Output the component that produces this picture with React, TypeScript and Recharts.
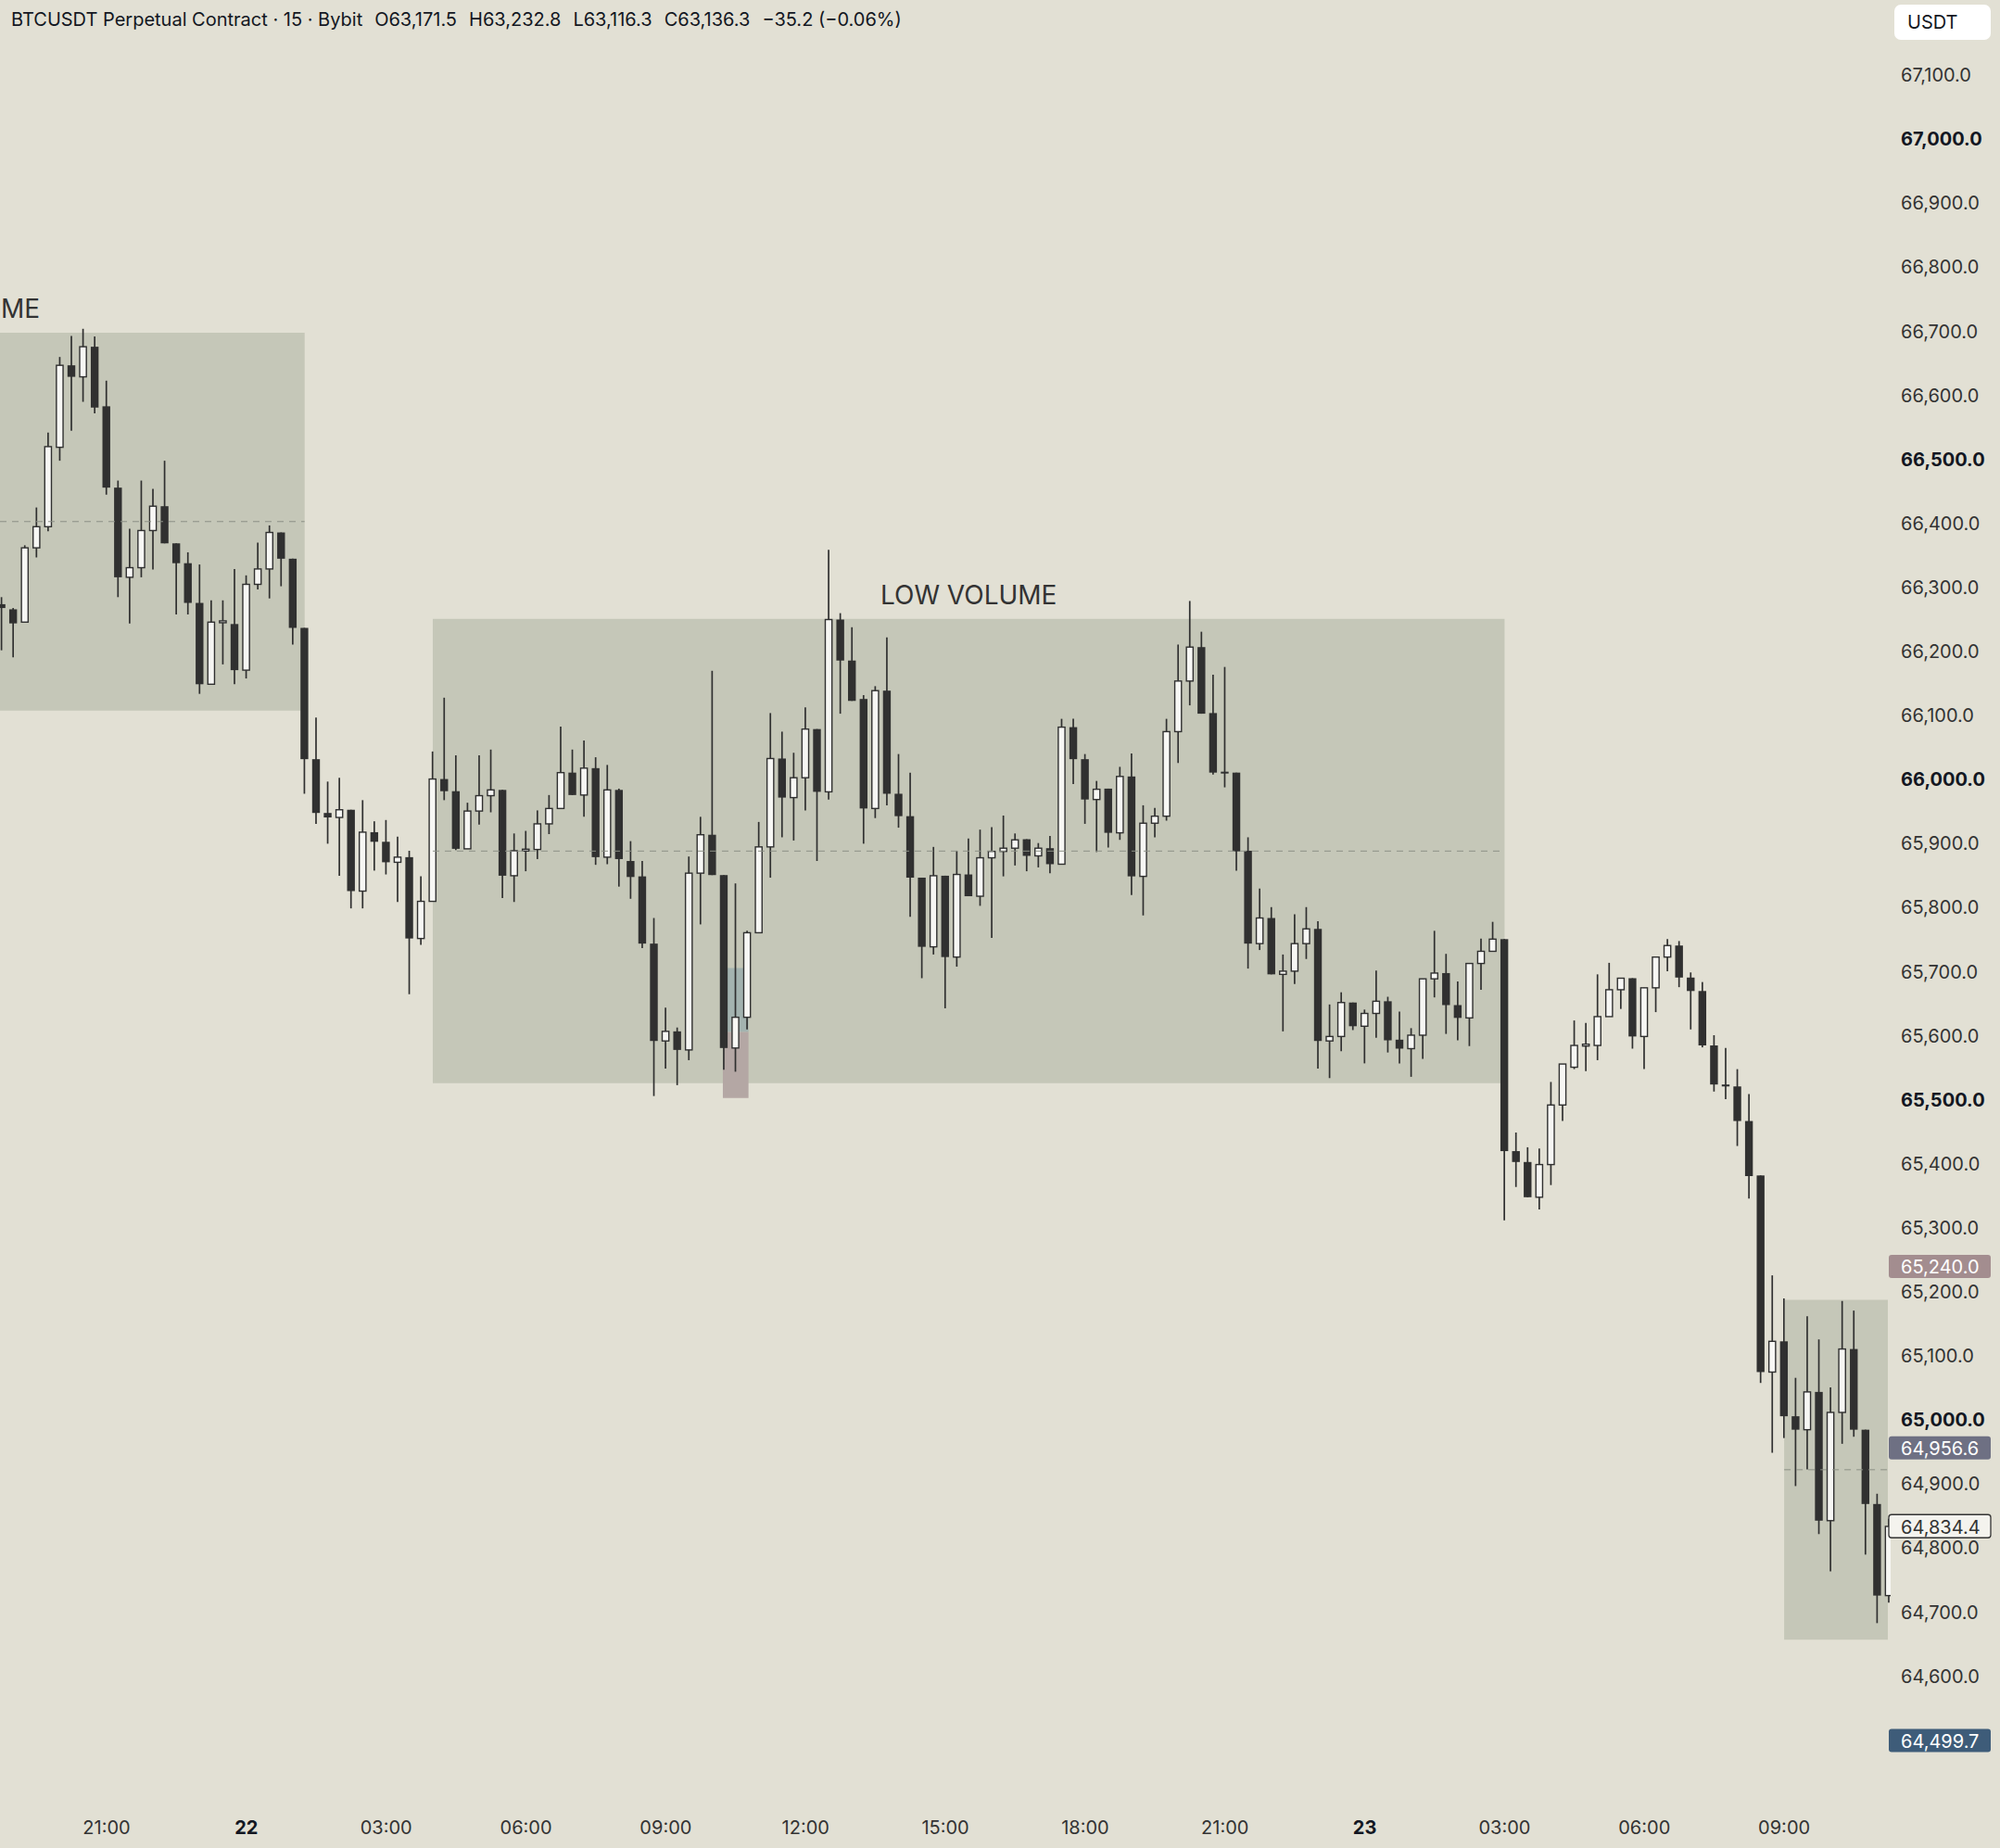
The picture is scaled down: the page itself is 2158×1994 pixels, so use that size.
import React from 'react';
import { ComposedChart, Bar, XAxis, YAxis, ReferenceArea, ReferenceLine } from 'recharts';

// 15m candles, BTCUSDT, 21 18:45 -> 23 ~11:00
const OPENS = [
  66274, 66266, 66246, 66362, 66395, 66519, 66647, 66629, 66676, 66583,
  66456, 66316, 66331, 66389, 66427, 66369, 66338, 66276, 66149, 66246,
  66243, 66171, 66305, 66329, 66386, 66345, 66237, 66032, 65948, 65941,
  65953, 65826, 65918, 65903, 65871, 65879, 65752, 65810, 66001, 65982,
  65892, 65951, 65975, 65984, 65850, 65889, 65891, 65931, 65955, 66011,
  65976, 66018, 65879, 65984, 65873, 65849, 65744, 65592, 65607, 65578,
  65854, 65914, 65851, 65581, 65629, 65761, 65895, 66033, 65972, 66003,
  66079, 65981, 66250, 66186, 66126, 65955, 66139, 65978, 65943, 65847,
  65739, 65850, 65723, 65852, 65818, 65878, 65888, 65893, 65907, 65881,
  65893, 65868, 66082, 66032, 65969, 65986, 65917, 66005, 65849, 65932,
  65943, 66075, 66154, 66207, 66104, 66012, 66011, 65889, 65744, 65784,
  65696, 65701, 65744, 65767, 65592, 65599, 65652, 65615, 65635, 65654,
  65594, 65580, 65601, 65689, 65698, 65648, 65628, 65713, 65732, 65751,
  65420, 65403, 65348, 65399, 65492, 65551, 65585, 65585, 65630, 65672,
  65690, 65599, 65675, 65723, 65741, 65691, 65670, 65585, 65524, 65521,
  65467, 65382, 65075, 65123, 65006, 64985, 65044, 64843, 65012, 65111,
  64985, 64869, 64726,
];

const HIGHS = [
  66285, 66268, 66366, 66425, 66542, 66660, 66693, 66704, 66692, 66623,
  66467, 66392, 66467, 66454, 66498, 66369, 66355, 66336, 66280, 66280,
  66329, 66319, 66370, 66397, 66386, 66345, 66237, 66097, 65997, 66003,
  65953, 65968, 65935, 65937, 65911, 65889, 65849, 66044, 66128, 66038,
  65964, 66038, 66047, 65984, 65916, 65920, 65952, 65976, 66083, 66047,
  66061, 66035, 66023, 65986, 65904, 65873, 65784, 65644, 65613, 65880,
  65942, 66170, 65851, 65838, 65764, 65934, 66104, 66075, 66042, 66113,
  66079, 66359, 66260, 66238, 66132, 66146, 66222, 66040, 66011, 65847,
  65895, 65850, 65889, 65908, 65922, 65926, 65944, 65916, 65907, 65901,
  65912, 66095, 66095, 66040, 65998, 65986, 66020, 66041, 65960, 65956,
  66095, 66211, 66279, 66231, 66164, 66176, 66011, 65910, 65830, 65801,
  65727, 65790, 65801, 65779, 65649, 65668, 65652, 65641, 65702, 65661,
  65638, 65612, 65689, 65764, 65728, 65685, 65713, 65752, 65778, 65751,
  65449, 65426, 65424, 65528, 65556, 65624, 65620, 65696, 65714, 65690,
  65690, 65675, 65723, 65751, 65748, 65699, 65684, 65601, 65581, 65548,
  65509, 65382, 65226, 65190, 65066, 65162, 65126, 65051, 65186, 65171,
  64985, 64885, 64846,
];

const LOWS = [
  66202, 66191, 66246, 66347, 66388, 66498, 66545, 66590, 66572, 66445,
  66285, 66244, 66316, 66328, 66369, 66258, 66258, 66134, 66149, 66180,
  66149, 66158, 66297, 66283, 66302, 66211, 65978, 65931, 65900, 65850,
  65799, 65799, 65858, 65852, 65809, 65665, 65742, 65810, 65968, 65890,
  65892, 65930, 65949, 65815, 65809, 65857, 65876, 65915, 65955, 65976,
  65942, 65867, 65868, 65833, 65814, 65737, 65506, 65549, 65523, 65562,
  65774, 65851, 65547, 65544, 65610, 65761, 65847, 65910, 65905, 65952,
  65873, 65969, 66103, 66123, 65900, 65940, 65960, 65925, 65786, 65690,
  65727, 65643, 65708, 65818, 65803, 65753, 65849, 65866, 65857, 65863,
  65854, 65868, 65993, 65931, 65887, 65894, 65906, 65820, 65788, 65910,
  65936, 66026, 66116, 66103, 66008, 65988, 65858, 65705, 65734, 65696,
  65607, 65681, 65720, 65549, 65534, 65576, 65609, 65557, 65597, 65574,
  65557, 65536, 65564, 65660, 65603, 65593, 65584, 65672, 65732, 65312,
  65364, 65348, 65329, 65367, 65467, 65548, 65545, 65562, 65630, 65642,
  65580, 65548, 65637, 65701, 65676, 65610, 65582, 65513, 65501, 65428,
  65346, 65058, 64949, 64972, 64897, 64923, 64822, 64764, 64963, 64974,
  64790, 64683, 64715,
];

const CLOSES = [
  66268, 66244, 66362, 66395, 66520, 66647, 66629, 66676, 66581, 66456,
  66316, 66331, 66389, 66427, 66369, 66338, 66276, 66149, 66246, 66247,
  66171, 66305, 66329, 66386, 66345, 66237, 66032, 65948, 65941, 65953,
  65826, 65918, 65903, 65871, 65879, 65752, 65810, 66001, 65982, 65892,
  65951, 65975, 65984, 65850, 65889, 65891, 65931, 65955, 66011, 65976,
  66018, 65879, 65984, 65876, 65848, 65744, 65592, 65607, 65578, 65854,
  65914, 65851, 65581, 65629, 65761, 65895, 66033, 65972, 66003, 66079,
  65981, 66250, 66186, 66123, 65955, 66139, 65978, 65943, 65847, 65739,
  65850, 65723, 65852, 65818, 65878, 65888, 65893, 65906, 65881, 65893,
  65868, 66082, 66032, 65969, 65985, 65917, 66005, 65849, 65932, 65943,
  66075, 66154, 66207, 66103, 66011, 66010, 65888, 65744, 65784, 65696,
  65701, 65744, 65767, 65592, 65599, 65652, 65615, 65635, 65654, 65593,
  65580, 65601, 65689, 65698, 65648, 65628, 65713, 65732, 65751, 65420,
  65403, 65348, 65399, 65492, 65556, 65585, 65586, 65630, 65672, 65690,
  65599, 65675, 65723, 65741, 65691, 65670, 65585, 65524, 65521, 65467,
  65381, 65075, 65123, 65006, 64985, 65044, 64843, 65012, 65111, 64985,
  64869, 64726, 64834,
];

// candle index of each time label
const TIME_TICKS = [9, 21, 33, 45, 57, 69, 81, 93, 105, 117, 129, 141, 153];
const TIME_LABELS = ['21:00', '22', '03:00', '06:00', '09:00', '12:00', '15:00', '18:00', '21:00', '23', '03:00', '06:00', '09:00'];

const PRICE_TICKS = [
  64600, 64700, 64800, 64900, 65000, 65100, 65200, 65300, 65400, 65500, 65600, 65700, 65800,
  65900, 66000, 66100, 66200, 66300, 66400, 66500, 66600, 66700, 66800, 66900, 67000, 67100,
];

// volume boxes (candle index range, price range)
const BOX_FROM = [-0.15, 37, 153];
const BOX_TO = [26, 129, 161.9];
const BOX_LOW = [66108, 65526, 64657];
const BOX_HIGH = [66698, 66251, 65188];
const BOX_LABELS = ['ME', 'LOW VOLUME', ''];

// price badges on the scale
const BADGE_PRICES = [65240.0, 64956.6, 64834.4, 64499.7];
const BADGE_FILLS = ['#a38d8f', '#6e7083', '#f4f3ee', '#3e5c79'];
const BADGE_TEXT = ['#ffffff', '#ffffff', '#333333', '#ffffff'];

const X_DOMAIN = [-0.15, 162.14];
const Y_DOMAIN = [64410, 67217.4];

const BG = '#e2e0d4';
const BOX_FILL = '#c5c7b8';
const DARK = '#303030';

const data = OPENS.map((o, i) => ({
  i,
  range: [LOWS[i], HIGHS[i]],
  o,
  h: HIGHS[i],
  l: LOWS[i],
  c: CLOSES[i],
}));

const fmt = (v: number) =>
  v.toLocaleString('en-US', { minimumFractionDigits: 1, maximumFractionDigits: 1 });

function Candle(props: any) {
  const { x, y, width, height, payload } = props;
  if (!payload) return null;
  const { o, h, l, c } = payload;
  const top = Math.min(y, y + height);
  const span = Math.abs(height);
  const k = h > l ? span / (h - l) : 0;
  const cx = x + width / 2;
  const up = c >= o;
  let bTop = top + (h - Math.max(o, c)) * k;
  let bBot = top + (h - Math.min(o, c)) * k;
  if (bBot - bTop < 2) {
    const m = (bTop + bBot) / 2;
    bTop = m - 1;
    bBot = m + 1;
  }
  return (
    <g>
      <line x1={cx} x2={cx} y1={top} y2={top + span} stroke={DARK} strokeWidth={1.7} />
      {up ? (
        <rect x={cx - 3.6} y={bTop} width={7.2} height={bBot - bTop} fill='#f7f7f4' stroke={DARK} strokeWidth={1.4} />
      ) : (
        <rect x={cx - 4.2} y={bTop} width={8.4} height={bBot - bTop} fill={DARK} />
      )}
    </g>
  );
}

function TimeTick(props: any) {
  const { x, y, payload } = props;
  const idx = TIME_TICKS.indexOf(payload.value);
  const label = TIME_LABELS[idx] ?? '';
  const bold = label.length === 2;
  return (
    <text
      x={x}
      y={y + 32}
      textAnchor='middle'
      dominantBaseline='central'
      fontSize={20}
      fontWeight={bold ? 700 : 400}
      fill={bold ? '#131722' : '#333'}
      fontFamily='Inter, sans-serif'
    >
      {label}
    </text>
  );
}

function PriceTick(props: any) {
  const { x, y, payload } = props;
  const bold = payload.value % 500 === 0;
  return (
    <text
      x={x + 11}
      y={y}
      textAnchor='start'
      dominantBaseline='central'
      fontSize={20}
      fontWeight={bold ? 700 : 400}
      fill={bold ? '#131722' : '#333'}
      fontFamily='Inter, sans-serif'
    >
      {fmt(payload.value)}
    </text>
  );
}

function badge(i: number) {
  return (props: any) => {
    const vb = props.viewBox || {};
    const right = (vb.x ?? 0) + (vb.width ?? 0);
    const cy = vb.y ?? 0;
    return (
      <g>
        <rect
          x={right - 2}
          y={cy - 12.5}
          width={110}
          height={25}
          rx={3}
          fill={BADGE_FILLS[i]}
          stroke={i === 2 ? '#333' : 'none'}
          strokeWidth={1.3}
        />
        <text
          x={right + 11}
          y={cy + 1}
          dominantBaseline='central'
          fontSize={20}
          fill={BADGE_TEXT[i]}
          fontFamily='Inter, sans-serif'
        >
          {fmt(BADGE_PRICES[i])}
        </text>
      </g>
    );
  };
}

function boxLabel(i: number) {
  return (props: any) => {
    const vb = props.viewBox || {};
    if (!BOX_LABELS[i]) return null;
    const isLeft = i === 0;
    return (
      <text
        x={isLeft ? 1 : vb.x + vb.width / 2}
        y={vb.y - 26}
        textAnchor={isLeft ? 'start' : 'middle'}
        dominantBaseline='central'
        fontSize={28}
        fill='#333'
        fontFamily='Inter, sans-serif'
      >
        {BOX_LABELS[i]}
      </text>
    );
  };
}

export default function App() {
  return (
    <div
      style={{
        position: 'absolute',
        left: 0,
        top: 0,
        width: 2158,
        height: 1994,
        background: BG,
        fontFamily: 'Inter, sans-serif',
        overflow: 'hidden',
      }}
    >
      <ComposedChart
        width={2158}
        height={1994}
        data={data}
        margin={{ top: 0, right: 0, bottom: 0, left: 0 }}
      >
        <XAxis
          dataKey='i'
          type='number'
          domain={X_DOMAIN}
          allowDataOverflow
          ticks={TIME_TICKS}
          interval={0}
          tick={<TimeTick />}
          tickLine={false}
          axisLine={false}
          tickSize={0}
          tickMargin={0}
          height={54}
        />
        <YAxis
          orientation='right'
          type='number'
          domain={Y_DOMAIN}
          allowDataOverflow
          ticks={PRICE_TICKS}
          interval={0}
          tick={<PriceTick />}
          tickLine={false}
          axisLine={false}
          tickSize={0}
          tickMargin={0}
          width={118}
        />

        {BOX_FROM.map((x1, i) => (
          <ReferenceArea
            key={'box' + i}
            x1={x1}
            x2={BOX_TO[i]}
            y1={BOX_LOW[i]}
            y2={BOX_HIGH[i]}
            fill={BOX_FILL}
            fillOpacity={1}
            stroke='none'
            ifOverflow='extendDomain'
            label={boxLabel(i)}
          />
        ))}
        {BOX_FROM.map((x1, i) => (
          <ReferenceLine
            key={'mid' + i}
            segment={[
              { x: x1, y: (BOX_LOW[i] + BOX_HIGH[i]) / 2 },
              { x: BOX_TO[i], y: (BOX_LOW[i] + BOX_HIGH[i]) / 2 },
            ]}
            stroke='#8c9086'
            strokeWidth={1}
            strokeDasharray='7 6'
          />
        ))}
        <ReferenceArea x1={61.9} x2={64.1} y1={65606} y2={65706} fill='#a3b3b0' fillOpacity={1} stroke='none' />
        <ReferenceArea x1={61.9} x2={64.1} y1={65503} y2={65606} fill='#b4a7a4' fillOpacity={1} stroke='none' />

        <Bar dataKey='range' barSize={8} isAnimationActive={false} shape={(p: any) => <Candle {...p} />} />

        {BADGE_PRICES.map((p, i) => (
          <ReferenceLine key={'badge' + i} y={p} stroke='none' label={badge(i)} />
        ))}
      </ComposedChart>

      <div
        style={{
          position: 'absolute',
          left: 12,
          top: 8,
          fontSize: 20,
          color: '#131722',
          whiteSpace: 'nowrap',
          lineHeight: '26px',
        }}
      >
        <span>BTCUSDT Perpetual Contract · 15 · Bybit</span>
        <span style={{ marginLeft: 13 }}>O63,171.5</span>
        <span style={{ marginLeft: 13 }}>H63,232.8</span>
        <span style={{ marginLeft: 13 }}>L63,116.3</span>
        <span style={{ marginLeft: 13 }}>C63,136.3</span>
        <span style={{ marginLeft: 13 }}>−35.2 (−0.06%)</span>
      </div>

      <div
        style={{
          position: 'absolute',
          left: 2044,
          top: 5,
          width: 104,
          height: 38,
          background: '#ffffff',
          borderRadius: 7,
          fontSize: 20,
          color: '#131722',
          lineHeight: '38px',
          paddingLeft: 14,
          boxSizing: 'border-box',
        }}
      >
        USDT
      </div>
    </div>
  );
}
